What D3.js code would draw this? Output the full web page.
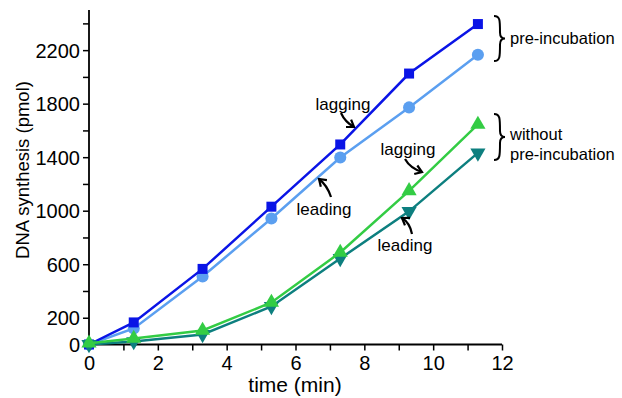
<!DOCTYPE html>
<html>
<head>
<meta charset="utf-8">
<script src="https://cdn.jsdelivr.net/npm/d3@7"></script>
<style>
body { margin: 0; background: #fff; }
svg text { font-family: "Liberation Sans", Arial, sans-serif; }
</style>
</head>
<body>
<div id="chart"></div>
<script>
// time points (min)
var times = [0, 1.3, 3.3, 5.3, 7.3, 9.3, 11.3];

// DNA synthesis (pmol)
var lagPre = [0, 165, 565, 1030, 1495, 2025, 2395];
var leadPre = [0, 120, 508, 942, 1398, 1772, 2165];
var lagNo = [10, 45, 105, 314, 688, 1148, 1645];
var leadNo = [0, 22, 75, 284, 643, 995, 1432];

var yTicks = [0, 200, 400, 600, 800, 1000, 1200, 1400, 1600, 1800, 2000, 2200, 2400];
var yLabels = [0, 200, 600, 1000, 1400, 1800, 2200];
var xTicks = [0, 1, 2, 3, 4, 5, 6, 7, 8, 9, 10, 11, 12];
var xLabels = [0, 2, 4, 6, 8, 10, 12];

var w = 622, h = 398;

var x = d3.scaleLinear().domain([0, 12]).range([89, 502]);
var y = d3.scaleLinear().domain([0, 2500]).range([344.5, 10]);

var svg = d3.select("#chart").append("svg")
  .attr("width", w)
  .attr("height", h);

// axes
var xAxis = d3.axisBottom(x).tickValues(xTicks).tickSize(6)
  .tickFormat(function(d) { return xLabels.indexOf(d) >= 0 ? d : ""; });
var yAxis = d3.axisLeft(y).tickValues(yTicks).tickSize(6)
  .tickFormat(function(d) { return yLabels.indexOf(d) >= 0 ? d : ""; });

var gx = svg.append("g").attr("transform", "translate(0," + y(0) + ")").call(xAxis);
var gy = svg.append("g").attr("transform", "translate(" + x(0) + ",0)").call(yAxis);

[gx, gy].forEach(function(g) {
  g.attr("font-size", null).attr("font-family", null);
  g.select(".domain").attr("stroke", "#000").attr("stroke-width", 1.8)
    .attr("d", g === gx ? "M" + x(0) + ",0H" + x(12) : "M0," + y(0) + "V" + y(2500));
  g.selectAll(".tick line").attr("stroke", "#000").attr("stroke-width", 1.5);
  g.selectAll(".tick text").attr("fill", "#000").style("font-size", "20px");
});
gx.selectAll(".tick text").attr("dy", "0.8em");
gy.selectAll(".tick text").attr("dx", "0px").attr("dy", "0.36em");

// axis titles
svg.append("text")
  .attr("x", 295).attr("y", 392)
  .attr("text-anchor", "middle")
  .style("font-size", "21px")
  .text("time (min)");

svg.append("text")
  .attr("transform", "translate(29,170) rotate(-90)")
  .attr("text-anchor", "middle")
  .style("font-size", "18.5px")
  .text("DNA synthesis (pmol)");

// series
var series = [
  { vals: leadPre, color: "#5b9ff0", shape: d3.symbolCircle, size: 115, rot: 0 },
  { vals: lagPre, color: "#0a14e6", shape: d3.symbolSquare, size: 100, rot: 0 },
  { vals: leadNo, color: "#0d7f7f", shape: d3.symbolTriangle, size: 100, rot: 180 },
  { vals: lagNo, color: "#33cc44", shape: d3.symbolTriangle, size: 100, rot: 0 }
];

var line = d3.line()
  .x(function(d) { return x(d[0]); })
  .y(function(d) { return y(d[1]); });

series.forEach(function(s) {
  var pts = times.map(function(t, i) { return [t, s.vals[i]]; });
  svg.append("path")
    .datum(pts)
    .attr("fill", "none")
    .attr("stroke", s.color)
    .attr("stroke-width", 2.5)
    .attr("d", line);
  svg.selectAll(null)
    .data(pts)
    .enter().append("path")
    .attr("d", d3.symbol().type(s.shape).size(s.size))
    .attr("fill", s.color)
    .attr("transform", function(d) {
      return "translate(" + x(d[0]) + "," + y(d[1]) + ") rotate(" + s.rot + ")";
    });
});

// annotations
var notes = [
  { text: "lagging", tx: 343, ty: 110, path: "M341,113 Q345,122 354,127" , head: [354, 127, 0.6] },
  { text: "leading", tx: 324, ty: 215, path: "M331,197 Q327,185 319,179", head: [319, 179, -2.4] },
  { text: "lagging", tx: 408, ty: 155, path: "M405,159 Q410,168 422,172", head: [422, 172, 0.35] },
  { text: "leading", tx: 405, ty: 251, path: "M412,234 Q410,223 402,218", head: [402, 218, -2.55] }
];

notes.forEach(function(n) {
  svg.append("text")
    .attr("x", n.tx).attr("y", n.ty)
    .attr("text-anchor", "middle")
    .style("font-size", "17px")
    .text(n.text);
  svg.append("path")
    .attr("d", n.path)
    .attr("fill", "none")
    .attr("stroke", "#000")
    .attr("stroke-width", 2.2);
  var a = n.head[2], L = 8, sp = 0.6;
  var hx = n.head[0], hy = n.head[1];
  svg.append("path")
    .attr("d", "M" + (hx - L * Math.cos(a - sp)) + "," + (hy - L * Math.sin(a - sp)) +
      "L" + hx + "," + hy +
      "L" + (hx - L * Math.cos(a + sp)) + "," + (hy - L * Math.sin(a + sp)))
    .attr("fill", "none")
    .attr("stroke", "#000")
    .attr("stroke-width", 2.2);
});

// braces
function brace(x0, y0, y1) {
  var m = (y0 + y1) / 2, d = 6;
  return "M" + x0 + "," + y0 +
    " C" + (x0 + d) + "," + y0 + " " + (x0 + d) + "," + (y0 + 4) + " " + (x0 + d) + "," + (m - 6) +
    " C" + (x0 + d) + "," + (m - 1) + " " + (x0 + d + 2) + "," + m + " " + (x0 + d + 5) + "," + m +
    " C" + (x0 + d + 2) + "," + m + " " + (x0 + d) + "," + (m + 1) + " " + (x0 + d) + "," + (m + 6) +
    " C" + (x0 + d) + "," + (y1 - 4) + " " + (x0 + d) + "," + y1 + " " + x0 + "," + y1;
}

svg.append("path").attr("d", brace(494, 16, 61))
  .attr("fill", "none").attr("stroke", "#000").attr("stroke-width", 2);
svg.append("path").attr("d", brace(494, 114, 160))
  .attr("fill", "none").attr("stroke", "#000").attr("stroke-width", 2);

svg.append("text").attr("x", 510).attr("y", 44).style("font-size", "16.5px").text("pre-incubation");
svg.append("text").attr("x", 510).attr("y", 140).style("font-size", "16.5px").text("without");
svg.append("text").attr("x", 510).attr("y", 160).style("font-size", "16.5px").text("pre-incubation");
</script>
</body>
</html>
